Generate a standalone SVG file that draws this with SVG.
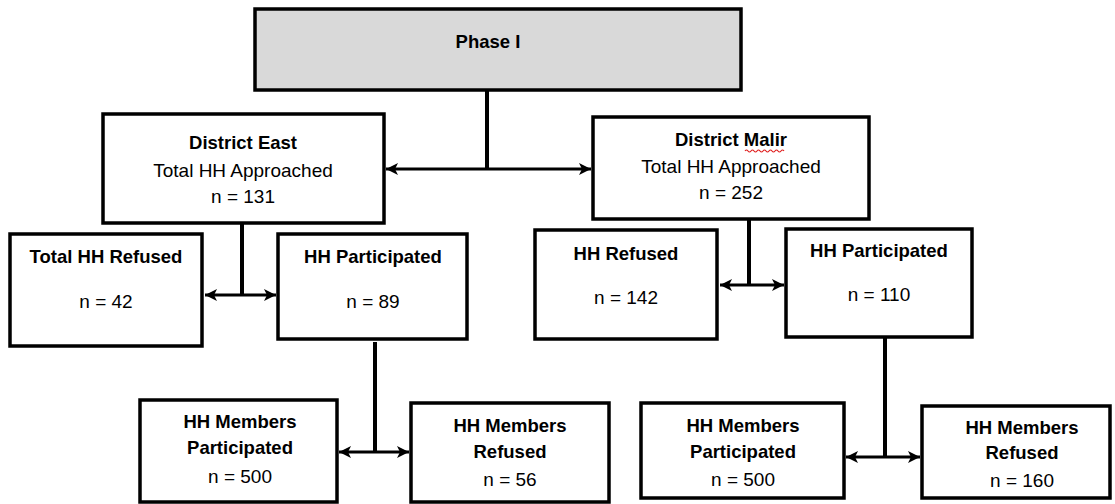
<svg xmlns="http://www.w3.org/2000/svg" width="1115" height="504" viewBox="0 0 1115 504">
  <style>
    .box { fill: #ffffff; stroke: #000000; stroke-width: 3.5; }
    .gray { fill: #d9d9d9; }
    .t { font-family: "Liberation Sans", Arial, sans-serif; font-size: 19px; fill: #000; text-anchor: middle; }
    .b { font-weight: bold; font-size: 18.5px; }
    .line { fill: none; stroke: #000; stroke-width: 3; }
    .stem { fill: none; stroke: #000; stroke-width: 4; }
  </style>
  <defs>
    <marker id="arr" viewBox="0 0 12 12" refX="12" refY="6" markerWidth="12" markerHeight="12" markerUnits="userSpaceOnUse" orient="auto-start-reverse">
      <path d="M0,0 L12,6 L0,12 L3,6 Z" fill="#000"/>
    </marker>
  </defs>
  <rect width="1115" height="504" fill="#ffffff"/>

  <g id="phase1">
    <rect class="box gray" x="255" y="9" width="486" height="81"/>
    <text class="t b" x="488" y="48">Phase I</text>
  </g>

  <g id="district-east">
    <rect class="box" x="103" y="114" width="281" height="109"/>
    <text class="t b" x="243" y="149">District East</text>
    <text class="t" x="243" y="177">Total HH Approached</text>
    <text class="t" x="243" y="203">n = 131</text>
  </g>

  <g id="district-malir">
    <rect class="box" x="593" y="117" width="276" height="102"/>
    <text class="t b" x="731" y="146">District Malir</text>
    <path d="M745,151 q1.5,-2 3,0 t3,0 t3,0 t3,0 t3,0 t3,0 t3,0 t3,0 t3,0 t3,0 t3,0 t3,0 t3,0" fill="none" stroke="#e02020" stroke-width="1.2"/>
    <text class="t" x="731" y="173">Total HH Approached</text>
    <text class="t" x="731" y="199">n = 252</text>
  </g>

  <g id="east-refused">
    <rect class="box" x="10" y="234" width="192" height="112"/>
    <text class="t b" x="106" y="263">Total HH Refused</text>
    <text class="t" x="106" y="308">n = 42</text>
  </g>

  <g id="east-participated">
    <rect class="box" x="278" y="234" width="189" height="105"/>
    <text class="t b" x="373" y="263">HH Participated</text>
    <text class="t" x="373" y="308">n = 89</text>
  </g>

  <g id="malir-refused">
    <rect class="box" x="535" y="230" width="182" height="109"/>
    <text class="t b" x="626" y="260">HH Refused</text>
    <text class="t" x="626" y="304">n = 142</text>
  </g>

  <g id="malir-participated">
    <rect class="box" x="786" y="229" width="186" height="108"/>
    <text class="t b" x="879" y="257">HH Participated</text>
    <text class="t" x="879" y="301">n = 110</text>
  </g>

  <g id="east-members-participated">
    <rect class="box" x="140" y="400" width="197" height="102"/>
    <text class="t b" x="240" y="428">HH Members</text>
    <text class="t b" x="240" y="454">Participated</text>
    <text class="t" x="240" y="483">n = 500</text>
  </g>

  <g id="east-members-refused">
    <rect class="box" x="411" y="403" width="198" height="99"/>
    <text class="t b" x="510" y="432">HH Members</text>
    <text class="t b" x="510" y="458">Refused</text>
    <text class="t" x="510" y="486">n = 56</text>
  </g>

  <g id="malir-members-participated">
    <rect class="box" x="641" y="403" width="203" height="95"/>
    <text class="t b" x="743" y="432">HH Members</text>
    <text class="t b" x="743" y="458">Participated</text>
    <text class="t" x="743" y="486">n = 500</text>
  </g>

  <g id="malir-members-refused">
    <rect class="box" x="922" y="406" width="188" height="92"/>
    <text class="t b" x="1022" y="434">HH Members</text>
    <text class="t b" x="1022" y="459">Refused</text>
    <text class="t" x="1022" y="487">n = 160</text>
  </g>

  <g id="connectors">
    <path class="stem" d="M487,90 V169"/>
    <path class="line" d="M487,169 H386" marker-end="url(#arr)"/>
    <path class="line" d="M487,169 H591" marker-end="url(#arr)"/>

    <path class="stem" d="M242,223 V295"/>
    <path class="line" d="M242,295 H205" marker-end="url(#arr)"/>
    <path class="line" d="M242,295 H276" marker-end="url(#arr)"/>

    <path class="stem" d="M375,342 V452"/>
    <path class="line" d="M375,452 H339" marker-end="url(#arr)"/>
    <path class="line" d="M375,452 H409" marker-end="url(#arr)"/>

    <path class="stem" d="M749,219 V285"/>
    <path class="line" d="M749,285 H720" marker-end="url(#arr)"/>
    <path class="line" d="M749,285 H784" marker-end="url(#arr)"/>

    <path class="stem" d="M885,337 V457"/>
    <path class="line" d="M885,457 H846" marker-end="url(#arr)"/>
    <path class="line" d="M885,457 H920" marker-end="url(#arr)"/>
  </g>
</svg>
